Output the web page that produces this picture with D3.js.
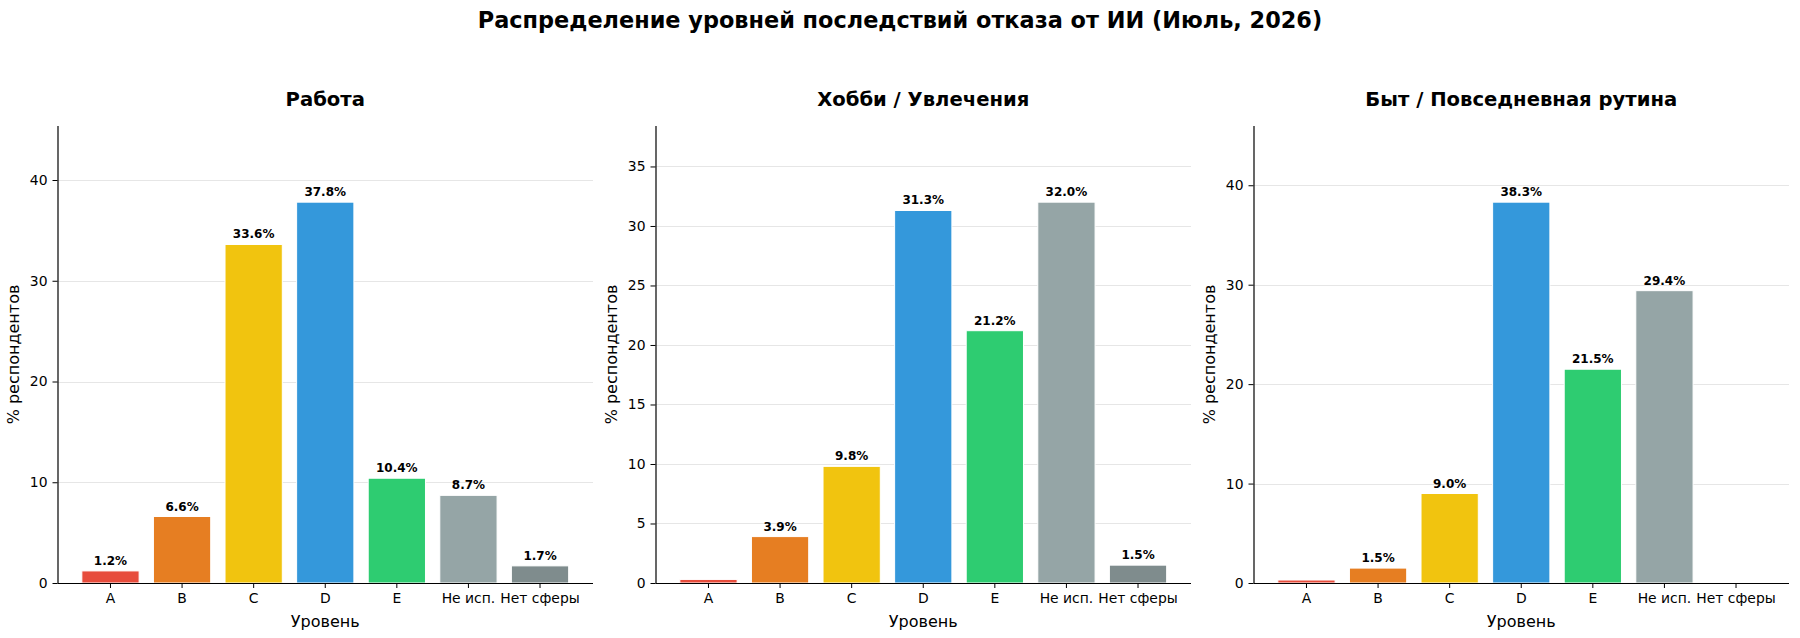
<!DOCTYPE html>
<html>
<head>
<meta charset="utf-8">
<script src="https://cdn.jsdelivr.net/npm/d3@7"></script>
<style>
  body { margin: 0; background: #fff; }
  svg { font-family: "DejaVu Sans", sans-serif; }
</style>
</head>
<body>
<div id="chart"></div>
<script>
// Data
const levels = ["A", "B", "C", "D", "E", "Не исп.", "Нет сферы"];
const levelColors = ["#e74c3c", "#e67e22", "#f1c40f", "#3498db", "#2ecc71", "#95a5a6", "#7f8c8d"];
const panelTitles = ["Работа", "Хобби / Увлечения", "Быт / Повседневная рутина"];
const workValues = [1.2, 6.6, 33.6, 37.8, 10.4, 8.7, 1.7];
const hobbyValues = [0.3, 3.9, 9.8, 31.3, 21.2, 32.0, 1.5];
const homeValues = [0.3, 1.5, 9.0, 38.3, 21.5, 29.4, 0];
const workTicks = [0, 10, 20, 30, 40];
const hobbyTicks = [0, 5, 10, 15, 20, 25, 30, 35];
const homeTicks = [0, 10, 20, 30, 40];

const panels = [
    { title: panelTitles[0], values: workValues, ticks: workTicks },
    { title: panelTitles[1], values: hobbyValues, ticks: hobbyTicks },
    { title: panelTitles[2], values: homeValues, ticks: homeTicks }
];

const width = 1800;
const height = 638;

const svg = d3.select("#chart")
    .append("svg")
    .attr("width", width)
    .attr("height", height);

// Main title
svg.append("text")
    .attr("x", width / 2)
    .attr("y", 28)
    .attr("text-anchor", "middle")
    .attr("font-size", 22.4)
    .attr("font-weight", "bold")
    .text("Распределение уровней последствий отказа от ИИ (Июль, 2026)");

const panelLeft = [57.5, 655.5, 1253.5];
const panelWidth = 535.5;
const plotTop = 126;
const plotBottom = 583;

panels.forEach((p, i) => {
    const g = svg.append("g").attr("transform", `translate(${panelLeft[i]},0)`);
    const rows = p.values.map((v, j) => ({ level: levels[j], value: v, color: levelColors[j] }));

    const x = d3.scaleBand()
        .domain(levels)
        .range([0, panelWidth])
        .paddingInner(0.2)
        .paddingOuter(0.34);

    const yMax = d3.max(p.values) * 1.2;
    const y = d3.scaleLinear()
        .domain([0, yMax])
        .range([plotBottom, plotTop]);

    // Grid
    g.append("g")
        .selectAll("line")
        .data(p.ticks)
        .enter()
        .append("line")
        .attr("x1", 0)
        .attr("x2", panelWidth)
        .attr("y1", d => Math.round(y(d)) + 0.5)
        .attr("y2", d => Math.round(y(d)) + 0.5)
        .attr("stroke", "#e6e6e6")
        .attr("stroke-width", 1);

    // Bars
    g.selectAll("rect")
        .data(rows.filter(d => d.value > 0))
        .enter()
        .append("rect")
        .attr("x", d => x(d.level))
        .attr("y", d => y(d.value))
        .attr("width", x.bandwidth())
        .attr("height", d => plotBottom - y(d.value))
        .attr("fill", d => d.color)
        .attr("stroke", "#fff")
        .attr("stroke-width", 1);

    // Value labels (small shares are left unlabeled)
    g.selectAll("text.val")
        .data(rows.filter(d => d.value >= 1))
        .enter()
        .append("text")
        .attr("class", "val")
        .attr("x", d => x(d.level) + x.bandwidth() / 2)
        .attr("y", d => y(d.value) - 6)
        .attr("text-anchor", "middle")
        .attr("font-size", 12)
        .attr("font-weight", "bold")
        .text(d => d.value.toFixed(1) + "%");

    // Axes
    const xAxis = g.append("g")
        .attr("transform", `translate(0,${plotBottom})`)
        .call(d3.axisBottom(x).tickSize(5).tickPadding(5));
    xAxis.selectAll("text").attr("font-size", 13.9).attr("fill", "#000").attr("font-family", "DejaVu Sans");
    xAxis.select(".domain").attr("stroke-width", 1.2).attr("d", `M0,0.5H${panelWidth}`);

    const yAxis = g.append("g")
        .call(d3.axisLeft(y).tickValues(p.ticks).tickSize(5).tickPadding(5).tickFormat(d3.format("d")));
    yAxis.selectAll("text").attr("font-size", 13.9).attr("fill", "#000").attr("font-family", "DejaVu Sans");
    yAxis.select(".domain").attr("stroke-width", 1.2).attr("d", `M0.5,${plotTop}V${plotBottom}`);

    // Subplot title
    g.append("text")
        .attr("x", panelWidth / 2)
        .attr("y", 106)
        .attr("text-anchor", "middle")
        .attr("font-size", 19.6)
        .attr("font-weight", "bold")
        .text(p.title);

    // Axis labels
    g.append("text")
        .attr("x", panelWidth / 2)
        .attr("y", 627)
        .attr("text-anchor", "middle")
        .attr("font-size", 16)
        .text("Уровень");

    g.append("text")
        .attr("transform", `translate(${-39},${(plotTop + plotBottom) / 2}) rotate(-90)`)
        .attr("text-anchor", "middle")
        .attr("font-size", 16)
        .text("% респондентов");
});
</script>
</body>
</html>
